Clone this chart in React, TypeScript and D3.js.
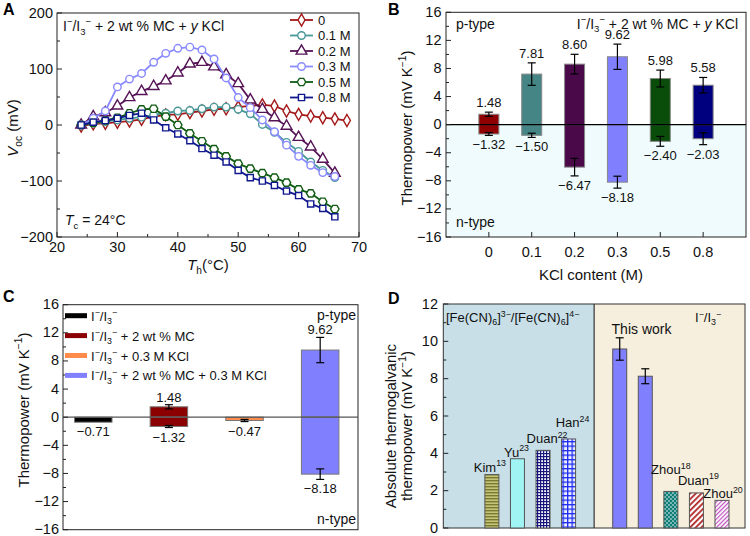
import React from 'react';
import * as d3 from 'd3';

const FONT = '"Liberation Sans", Arial, Helvetica, sans-serif';

// ---------- panel A data ----------
const tempsA = [24, 26, 28, 30, 32, 34, 36, 38, 40, 42, 44, 46, 48, 50, 52, 54, 56, 58, 60, 62, 64, 66];
const temps0 = [24, 26, 28, 30, 32, 34, 36, 38, 40, 42, 44, 46, 48, 50, 52, 54, 56, 58, 60, 62, 64, 66, 68];
const vocKCl0 = [-2, 2, 3, 5, 7, 10, 15, 18, 19, 22, 25, 28, 29, 32, 34, 36, 34, 25, 19, 16, 13, 11, 8];
const vocKCl01 = [0, 3, 6, 9, 12, 14, 18, 21, 25, 26, 29, 32, 32, 28, 20, 1, -13, -31, -47, -66, -81, -94];
const vocKCl02 = [0, 15, 22, 34, 49, 60, 69, 79, 93, 109, 112, 104, 90, 74, 45, 28, 13, -2, -22, -39, -61, -86];
const vocKCl03 = [0, 12, 25, 68, 82, 92, 112, 128, 137, 139, 134, 118, 84, 49, 31, 9, -12, -36, -56, -72, -85, -92];
const vocKCl05 = [0, 4, 8, 13, 21, 28, 29, 15, 0, -15, -29, -43, -56, -69, -78, -86, -94, -103, -115, -122, -137, -150];
const vocKCl08 = [0, 5, 8, 12, 17, 21, 9, -5, -16, -28, -42, -54, -66, -81, -94, -100, -108, -118, -126, -141, -149, -164];
const legendA = ['0', '0.1 M', '0.2 M', '0.3 M', '0.5 M', '0.8 M'];

// ---------- panel B data ----------
const catsB = ['0', '0.1', '0.2', '0.3', '0.5', '0.8'];
const posB = [1.48, 7.2, 8.62, 9.67, 6.57, 5.62];
const posErrB = [0.3, 1.6, 1.4, 1.8, 1.2, 1.1];
const negB = [-1.33, -1.52, -6.05, -8.19, -2.38, -2.0];
const negErrB = [0.2, 0.3, 1.25, 0.85, 0.7, 0.85];
const posLabelB = ['1.48', '7.81', '8.60', '9.62', '5.98', '5.58'];
const negLabelB = ['−1.32', '−1.50', '−6.47', '−8.18', '−2.40', '−2.03'];

// ---------- panel C data ----------
const legendC = ['I^{−}/I_{3}^{−}', 'I^{−}/I_{3}^{−} + 2 wt % MC', 'I^{−}/I_{3}^{−} + 0.3 M KCl', 'I^{−}/I_{3}^{−} + 2 wt % MC + 0.3 M KCl'];
const posC = [0, 1.48, 0, 9.55];
const posErrC = [0, 0.3, 0, 1.8];
const negC = [-0.71, -1.32, -0.47, -8.1];
const negErrC = [0, 0.15, 0.15, 0.75];
const posLabelC = ['', '1.48', '', '9.62'];
const negLabelC = ['−0.71', '−1.32', '−0.47', '−8.18'];

// ---------- panel D data ----------
const namesD = ['Kim', 'Yu', 'Duan', 'Han', '', '', 'Zhou', 'Duan', 'Zhou'];
const refsD = ['13', '23', '22', '24', '', '', '18', '19', '20'];
const slotsD = [1, 2, 3, 4, 6, 7, 8, 9, 10];
const valuesD = [2.86, 3.71, 4.16, 4.77, 9.59, 8.13, 1.96, 1.88, 1.48];
const errD = [0, 0, 0, 0, 0.6, 0.4, 0, 0, 0];

// styles
const colorsA = ['#a31818', '#4a9898', '#561456', '#8a8aff', '#0f5c12', '#10188e'];
const colorsB = ['#8f0000', '#468585', '#4a0a4a', '#8080ff', '#0a4d0a', '#00007e'];
const colorsC = ['#000000', '#8b0000', '#ff8c4c', '#8080ff'];
const fillsD = ['url(#pKim)', '#a0f4f4', 'url(#pDuan)', 'url(#pHan)', '#8080ff', '#8080ff', 'url(#pZhou18)', 'url(#pDuan19)', 'url(#pZhou20)'];
const labelDyD = [-3, -2, -7, -12, 0, 0, -17, -8, -2];
const labelDxD = [-2, -1, 4, 4, 0, 0, 0, 2, 1];

const symbolHex = {
  draw(ctx: any, size: number) {
    const r = Math.sqrt(size / (1.5 * Math.sqrt(3)));
    for (let i = 0; i < 6; i++) {
      const a = (Math.PI / 3) * i;
      if (i === 0) ctx.moveTo(r * Math.cos(a), r * Math.sin(a));
      else ctx.lineTo(r * Math.cos(a), r * Math.sin(a));
    }
    ctx.closePath();
  },
};
const symbolsA: any[] = [d3.symbolDiamond, d3.symbolCircle, d3.symbolTriangle, d3.symbolCircle, symbolHex, d3.symbolSquare];
const sizesA = [42, 44, 50, 44, 46, 38];

const fmt = (v: number) => (v < 0 ? '−' + Math.abs(v) : String(v));

// small rich text: ^{sup} _{sub} *{italic}
function RT({ x, y, text, size = 14, anchor = 'start', weight = 'normal', transform, fill = '#111' }: any) {
  const parts = text
    .split(/(\^\{[^}]*\}|_\{[^}]*\}|\*\{[^}]*\})/)
    .filter((s: string) => s.length)
    .map((s: string) =>
      s.startsWith('^{') ? { t: s.slice(2, -1), k: 'sup' } :
      s.startsWith('_{') ? { t: s.slice(2, -1), k: 'sub' } :
      s.startsWith('*{') ? { t: s.slice(2, -1), k: 'it' } : { t: s, k: 'n' });
  let cur = 0;
  return (
    <text x={x} y={y} fontSize={size} textAnchor={anchor} fontWeight={weight} transform={transform} fill={fill} fontFamily={FONT}>
      {parts.map((p: any, i: number) => {
        const target = p.k === 'sup' ? -0.42 * size : p.k === 'sub' ? 0.25 * size : 0;
        const dy = target - cur;
        cur = target;
        return (
          <tspan key={i} dy={dy} fontSize={p.k === 'sup' || p.k === 'sub' ? size * 0.68 : size} fontStyle={p.k === 'it' ? 'italic' : 'normal'}>
            {p.t}
          </tspan>
        );
      })}
    </text>
  );
}

function YTicks({ scale, x, major, minor, labelX, size = 14.5 }: any) {
  return (
    <g>
      {major.map((t: number) => (
        <g key={'M' + t}>
          <line x1={x} x2={x + 5} y1={scale(t)} y2={scale(t)} stroke="#222" />
          <text x={labelX} y={scale(t) + 4.5} textAnchor="end" fontSize={size} fontFamily={FONT} fill="#111">{fmt(t)}</text>
        </g>
      ))}
      {minor.map((t: number) => (
        <line key={'m' + t} x1={x} x2={x + 3} y1={scale(t)} y2={scale(t)} stroke="#222" />
      ))}
    </g>
  );
}

function ErrBar({ x, y1, y2 }: any) {
  return (
    <g stroke="#000" strokeWidth={1.2}>
      <line x1={x} x2={x} y1={y1} y2={y2} />
      <line x1={x - 4} x2={x + 4} y1={y1} y2={y1} />
      <line x1={x - 4} x2={x + 4} y1={y2} y2={y2} />
    </g>
  );
}

function PanelA() {
  const x = d3.scaleLinear().domain([20, 70]).range([57, 359]);
  const y = d3.scaleLinear().domain([-200, 200]).range([237, 13]);
  const series = [
    { t: temps0, v: vocKCl0 },
    { t: tempsA, v: vocKCl01 },
    { t: tempsA, v: vocKCl02 },
    { t: tempsA, v: vocKCl03 },
    { t: tempsA, v: vocKCl05 },
    { t: tempsA, v: vocKCl08 },
  ];
  const line = d3.line<number[]>().x((d) => x(d[0])).y((d) => y(d[1]));
  return (
    <g>
      <rect x={57} y={13} width={302} height={224} fill="#fff" stroke="#222" />
      {[20, 30, 40, 50, 60, 70].map((t) => (
        <g key={t}>
          <line x1={x(t)} x2={x(t)} y1={237} y2={232} stroke="#222" />
          <text x={x(t)} y={252} textAnchor="middle" fontSize={14.5} fontFamily={FONT} fill="#111">{t}</text>
        </g>
      ))}
      {[25, 35, 45, 55, 65].map((t) => (
        <line key={t} x1={x(t)} x2={x(t)} y1={237} y2={234} stroke="#222" />
      ))}
      <YTicks scale={y} x={57} major={[-200, -100, 0, 100, 200]} minor={[-150, -50, 50, 150]} labelX={53} />
      {series.map((s, i) => {
        const pts = s.t.map((t, j) => [t, s.v[j]]);
        const sym = d3.symbol().type(symbolsA[i]).size(sizesA[i]);
        return (
          <g key={i}>
            <path d={line(pts) || ''} fill="none" stroke={colorsA[i]} strokeWidth={1.8} />
            {pts.map((p, j) => (
              <path key={j} d={sym() || ''} transform={`translate(${x(p[0])},${y(p[1])})`} fill="#fff" stroke={colorsA[i]} strokeWidth={1.4} />
            ))}
          </g>
        );
      })}
      {legendA.map((name, i) => {
        const ly = 20 + i * 15.5;
        const sym = d3.symbol().type(symbolsA[i]).size(sizesA[i]);
        return (
          <g key={name}>
            <line x1={290} x2={313} y1={ly} y2={ly} stroke={colorsA[i]} strokeWidth={1.8} />
            <path d={sym() || ''} transform={`translate(301.5,${ly})`} fill="#fff" stroke={colorsA[i]} strokeWidth={1.4} />
            <text x={318} y={ly + 4.5} fontSize={13} fontFamily={FONT} fill="#111">{name}</text>
          </g>
        );
      })}
      <RT x={63} y={31} size={14} text="I^{−}/I_{3}^{−} + 2 wt % MC + *{y} KCl" />
      <RT x={65} y={225} size={14} text="*{T}_{c} = 24°C" />
      <RT x={18} y={128} size={15} anchor="middle" transform="rotate(-90,18,128)" text="*{V}_{oc} (mV)" />
      <RT x={208} y={270} size={15} anchor="middle" text="*{T}_{h}(°C)" />
      <text x={3} y={15} fontSize={16} fontWeight="bold" fontFamily={FONT}>A</text>
    </g>
  );
}

function PanelB() {
  const x = d3.scalePoint().domain(catsB).range([446, 746]).padding(1);
  const y = d3.scaleLinear().domain([-16, 16]).range([237, 12.3]);
  const bw = 20;
  return (
    <g>
      <rect x={446} y={y(0)} width={300} height={y(-16) - y(0)} fill="#effbfc" />
      <rect x={446} y={12.3} width={300} height={224.7} fill="none" stroke="#222" />
      {catsB.map((c, i) => {
        const cx = x(c) as number;
        return (
          <g key={c}>
            <line x1={cx} x2={cx} y1={237} y2={232} stroke="#222" />
            <text x={cx} y={257} textAnchor="middle" fontSize={14.5} fontFamily={FONT} fill="#111">{c}</text>
            <rect x={cx - bw / 2} y={y(posB[i])} width={bw} height={y(0) - y(posB[i])} fill={colorsB[i]} stroke="#888" strokeWidth={1} />
            <rect x={cx - bw / 2} y={y(0)} width={bw} height={y(negB[i]) - y(0)} fill={colorsB[i]} stroke="#888" strokeWidth={1} />
            <ErrBar x={cx} y1={y(posB[i] + posErrB[i])} y2={y(posB[i] - posErrB[i])} />
            <ErrBar x={cx} y1={y(negB[i] + negErrB[i])} y2={y(negB[i] - negErrB[i])} />
            <text x={cx} y={y(posB[i] + posErrB[i]) - 5} textAnchor="middle" fontSize={13} fontFamily={FONT} fill="#111">{posLabelB[i]}</text>
            <text x={cx} y={y(negB[i] - negErrB[i]) + 14} textAnchor="middle" fontSize={13} fontFamily={FONT} fill="#111">{negLabelB[i]}</text>
          </g>
        );
      })}
      <line x1={446} x2={746} y1={y(0)} y2={y(0)} stroke="#000" strokeWidth={1.2} />
      <YTicks scale={y} x={446} major={[-16, -12, -8, -4, 0, 4, 8, 12, 16]} minor={[-14, -10, -6, -2, 2, 6, 10, 14]} labelX={441.5} />
      <text x={456} y={29} fontSize={14} fontFamily={FONT} fill="#111">p-type</text>
      <text x={456} y={227} fontSize={14} fontFamily={FONT} fill="#111">n-type</text>
      <RT x={738} y={28.5} size={14} anchor="end" text="I^{−}/I_{3}^{−} + 2 wt % MC + *{y} KCl" />
      <RT x={412} y={128} size={15} anchor="middle" transform="rotate(-90,412,128)" text="Thermopower (mV K^{−1})" />
      <text x={591} y={280} textAnchor="middle" fontSize={15} fontFamily={FONT} fill="#111">KCl content (M)</text>
      <text x={388} y={15} fontSize={16} fontWeight="bold" fontFamily={FONT}>B</text>
    </g>
  );
}

function PanelC() {
  const x = d3.scaleLinear().domain([0.6, 4.5]).range([63, 358]);
  const y = d3.scaleLinear().domain([-16, 16]).range([529.7, 304.7]);
  const bw = 37.5;
  return (
    <g>
      <rect x={63} y={304.7} width={295} height={225} fill="#fff" stroke="#222" />
      {colorsC.map((col, i) => {
        const cx = x(i + 1);
        return (
          <g key={i}>
            {posC[i] > 0 && (
              <rect x={cx - bw / 2} y={y(posC[i])} width={bw} height={y(0) - y(posC[i])} fill={col} stroke="#777" />
            )}
            <rect x={cx - bw / 2} y={y(0)} width={bw} height={y(negC[i]) - y(0)} fill={col} stroke="#777" />
            {posErrC[i] > 0 && <ErrBar x={cx} y1={y(posC[i] + posErrC[i])} y2={y(posC[i] - posErrC[i])} />}
            {negErrC[i] > 0 && <ErrBar x={cx} y1={y(negC[i] + negErrC[i])} y2={y(negC[i] - negErrC[i])} />}
            {posLabelC[i] && (
              <text x={cx} y={y(posC[i] + posErrC[i]) - 3} textAnchor="middle" fontSize={13} fontFamily={FONT} fill="#111">{posLabelC[i]}</text>
            )}
            <text x={cx} y={y(negC[i] - negErrC[i]) + 14} textAnchor="middle" fontSize={13} fontFamily={FONT} fill="#111">{negLabelC[i]}</text>
          </g>
        );
      })}
      <line x1={63} x2={358} y1={y(0)} y2={y(0)} stroke="#555" strokeWidth={1.2} />
      <YTicks scale={y} x={63} major={[-16, -12, -8, -4, 0, 4, 8, 12, 16]} minor={[-14, -10, -6, -2, 2, 6, 10, 14]} labelX={59} />
      {legendC.map((lab, i) => {
        const ly = 315.7 + i * 19.9;
        return (
          <g key={i}>
            <rect x={65} y={ly - 2.5} width={22} height={5} fill={colorsC[i]} />
            <RT x={91} y={ly + 5} size={13} text={lab} />
          </g>
        );
      })}
      <text x={356} y={320} textAnchor="end" fontSize={14} fontFamily={FONT} fill="#111">p-type</text>
      <text x={356} y={524} textAnchor="end" fontSize={14} fontFamily={FONT} fill="#111">n-type</text>
      <RT x={28.5} y={410} size={15} anchor="middle" transform="rotate(-90,28.5,410)" text="Thermopower (mV K^{−1})" />
      <text x={3} y={302} fontSize={16} fontWeight="bold" fontFamily={FONT}>C</text>
    </g>
  );
}

function PanelD() {
  const x = d3.scaleLinear().domain([-0.9, 10.9]).range([443.3, 745]);
  const y = d3.scaleLinear().domain([0, 12]).range([528, 304]);
  const bw = 14;
  const mid = x(5);
  return (
    <g>
      <defs>
        <pattern id="pKim" width={4} height={3} patternUnits="userSpaceOnUse">
          <rect width={4} height={3} fill="#c4c47c" />
          <rect y={0} width={4} height={1.4} fill="#7a7a2c" />
        </pattern>
        <pattern id="pDuan" width={3} height={3} patternUnits="userSpaceOnUse">
          <rect width={3} height={3} fill="#ffffff" />
          <rect width={3} height={1.2} fill="#16167e" />
          <rect width={1.2} height={3} fill="#16167e" />
        </pattern>
        <pattern id="pHan" width={4.5} height={4.5} patternUnits="userSpaceOnUse">
          <rect width={4.5} height={4.5} fill="#eef0ff" />
          <rect width={4.5} height={1.3} fill="#1c2cf0" />
          <rect width={1.3} height={4.5} fill="#1c2cf0" />
        </pattern>
        <pattern id="pZhou18" width={4} height={4} patternUnits="userSpaceOnUse">
          <rect width={4} height={4} fill="#0e7e78" />
          <circle cx={1} cy={1} r={0.8} fill="#fff" />
          <circle cx={3} cy={3} r={0.8} fill="#fff" />
        </pattern>
        <pattern id="pDuan19" width={4} height={4} patternUnits="userSpaceOnUse" patternTransform="rotate(-45)">
          <rect width={4} height={4} fill="#ffffff" />
          <rect width={4} height={1.8} fill="#b02828" />
        </pattern>
        <pattern id="pZhou20" width={3} height={3} patternUnits="userSpaceOnUse" patternTransform="rotate(-45)">
          <rect width={3} height={3} fill="#ffffff" />
          <rect width={3} height={1.2} fill="#c050c0" />
        </pattern>
      </defs>
      <rect x={443.3} y={304} width={mid - 443.3} height={224} fill="#c8dfe8" />
      <rect x={mid} y={304} width={745 - mid} height={224} fill="#f6efde" />
      <line x1={mid} x2={mid} y1={304} y2={528} stroke="#555" strokeWidth={1.5} />
      <rect x={443.3} y={304} width={301.7} height={224} fill="none" stroke="#333" />
      {valuesD.map((v, i) => {
        const cx = x(slotsD[i]);
        return (
          <g key={i}>
            <rect x={cx - bw / 2} y={y(v)} width={bw} height={y(0) - y(v)} fill={fillsD[i]} stroke="#555" strokeWidth={1} />
            {errD[i] > 0 && <ErrBar x={cx} y1={y(v + errD[i])} y2={y(v - errD[i])} />}
            {namesD[i] && (
              <RT x={cx + labelDxD[i]} y={y(v) + labelDyD[i]} size={13} anchor="middle" text={`${namesD[i]}^{${refsD[i]}}`} />
            )}
          </g>
        );
      })}
      <text x={(x(6) + x(7)) / 2 + 9} y={334} textAnchor="middle" fontSize={14} fontFamily={FONT} fill="#111">This work</text>
      <RT x={446} y={322} size={13} text="[Fe(CN)_{6}]^{3−}/[Fe(CN)_{6}]^{4−}" />
      <RT x={695} y={322} size={13} text="I^{−}/I_{3}^{−}" />
      <YTicks scale={y} x={443.3} major={[0, 2, 4, 6, 8, 10, 12]} minor={[1, 3, 5, 7, 9, 11]} labelX={438} />
      <text x={396} y={426} textAnchor="middle" fontSize={15} fontFamily={FONT} fill="#111" transform="rotate(-90,396,426)">Absolute thermogalvanic</text>
      <RT x={412} y={426} size={15} anchor="middle" transform="rotate(-90,412,426)" text="thermopower (mV K^{−1})" />
      <text x={388} y={304} fontSize={16} fontWeight="bold" fontFamily={FONT}>D</text>
    </g>
  );
}

export default function App() {
  return (
    <svg width={750} height={536} viewBox="0 0 750 536" style={{ position: 'absolute', left: 0, top: 0, background: '#fff' }} fontFamily={FONT}>
      <rect width={750} height={536} fill="#fff" />
      <PanelA />
      <PanelB />
      <PanelC />
      <PanelD />
    </svg>
  );
}
